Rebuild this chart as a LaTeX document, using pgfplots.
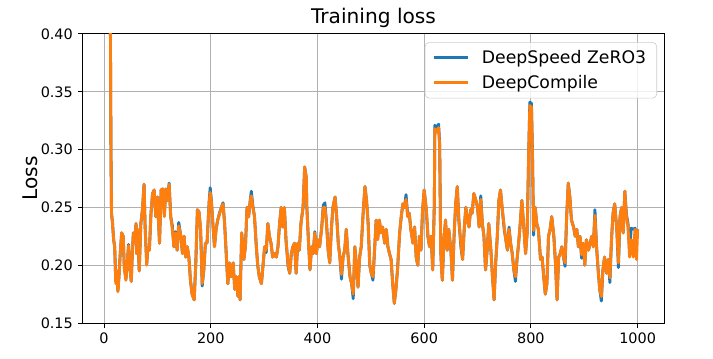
\documentclass[border=0pt]{standalone}
\usepackage{fontspec}
\setmainfont{DejaVu Sans}
\usepackage{pgfplots}
\usepackage{pgfplotstable}
\pgfplotsset{compat=1.18}
\usetikzlibrary{calc}

\definecolor{mplblue}{HTML}{1F77B4}
\definecolor{mplorange}{HTML}{FF7F0E}
\definecolor{gridc}{HTML}{B0B0B0}

% step, DeepSpeed ZeRO3, DeepCompile (smoothed loss)
\pgfplotstableread{
x zero dc
10 0.62 0.62
12 0.40 0.40
13 0.30 0.30
14 0.245 0.245
16 0.236 0.236
18 0.222 0.222
20 0.216 0.216
22 0.186 0.184
24 0.195 0.195
26 0.178 0.177
28 0.190 0.190
30 0.207 0.207
33 0.228 0.228
36 0.225 0.225
38 0.198 0.198
41 0.188 0.187
44 0.205 0.205
46 0.218 0.217
48 0.200 0.200
51 0.186 0.186
53 0.210 0.210
55 0.228 0.228
58 0.222 0.222
60 0.236 0.236
61 0.210 0.210
63 0.231 0.231
66 0.195 0.195
69 0.236 0.236
72 0.248 0.248
75 0.270 0.270
77 0.233 0.233
80 0.201 0.200
82 0.215 0.215
85 0.213 0.213
88 0.245 0.245
91 0.262 0.262
94 0.265 0.265
97 0.242 0.242
100 0.259 0.259
104 0.219 0.219
107 0.265 0.265
110 0.266 0.266
113 0.244 0.242
116 0.266 0.266
119 0.256 0.256
122 0.271 0.270
125 0.242 0.242
128 0.234 0.231
131 0.216 0.216
134 0.229 0.228
137 0.213 0.213
140 0.237 0.234
144 0.225 0.225
147 0.210 0.210
150 0.225 0.225
153 0.207 0.207
156 0.216 0.216
159 0.207 0.207
162 0.187 0.187
165 0.175 0.175
169 0.170 0.170
172 0.202 0.202
175 0.248 0.248
178 0.246 0.246
181 0.231 0.231
184 0.182 0.184
187 0.196 0.196
190 0.219 0.219
193 0.219 0.219
197 0.255 0.254
199 0.267 0.263
201 0.257 0.256
204 0.236 0.236
207 0.216 0.216
210 0.231 0.231
213 0.239 0.239
217 0.246 0.245
220 0.250 0.250
223 0.254 0.253
226 0.236 0.236
229 0.210 0.210
232 0.184 0.184
235 0.202 0.202
238 0.190 0.190
242 0.202 0.202
245 0.179 0.179
248 0.190 0.190
251 0.173 0.173
252 0.190 0.190
255 0.170 0.170
258 0.228 0.228
262 0.205 0.205
265 0.216 0.216
268 0.250 0.250
271 0.242 0.242
274 0.256 0.256
276 0.264 0.260
279 0.251 0.250
282 0.242 0.242
285 0.219 0.219
288 0.200 0.200
291 0.190 0.190
295 0.184 0.184
298 0.200 0.200
301 0.216 0.216
304 0.211 0.213
307 0.236 0.236
310 0.225 0.225
313 0.219 0.219
316 0.207 0.207
320 0.210 0.210
323 0.207 0.207
326 0.216 0.216
329 0.236 0.236
332 0.250 0.250
335 0.233 0.233
338 0.250 0.250
341 0.222 0.222
345 0.199 0.200
348 0.193 0.193
351 0.210 0.210
354 0.216 0.216
357 0.219 0.219
360 0.193 0.193
363 0.219 0.219
366 0.213 0.213
369 0.236 0.236
373 0.250 0.250
376 0.285 0.285
379 0.276 0.276
380 0.251 0.251
383 0.222 0.222
386 0.196 0.196
389 0.216 0.216
392 0.210 0.210
395 0.229 0.228
398 0.210 0.210
401 0.222 0.222
404 0.216 0.216
408 0.233 0.233
411 0.252 0.250
414 0.254 0.250
417 0.236 0.236
420 0.213 0.213
423 0.202 0.202
426 0.231 0.231
429 0.250 0.250
433 0.259 0.259
436 0.242 0.242
439 0.219 0.219
442 0.207 0.207
445 0.188 0.192
448 0.207 0.207
451 0.213 0.213
454 0.231 0.231
457 0.210 0.210
461 0.190 0.190
464 0.184 0.184
467 0.171 0.175
470 0.216 0.216
473 0.200 0.200
476 0.181 0.181
479 0.207 0.207
482 0.216 0.216
486 0.248 0.248
489 0.268 0.268
492 0.256 0.256
495 0.236 0.236
498 0.200 0.200
501 0.193 0.193
504 0.187 0.190
507 0.213 0.213
510 0.239 0.239
513 0.224 0.222
516 0.239 0.239
519 0.228 0.228
522 0.233 0.233
526 0.219 0.219
529 0.231 0.231
532 0.216 0.216
535 0.210 0.210
538 0.205 0.205
541 0.184 0.184
544 0.167 0.167
547 0.179 0.179
550 0.196 0.196
554 0.228 0.228
557 0.242 0.242
560 0.253 0.253
563 0.250 0.250
566 0.261 0.257
569 0.244 0.242
572 0.245 0.245
575 0.231 0.231
579 0.219 0.219
582 0.233 0.233
585 0.207 0.207
588 0.200 0.200
591 0.225 0.225
594 0.213 0.213
597 0.248 0.248
600 0.265 0.265
604 0.248 0.248
607 0.225 0.225
610 0.216 0.216
613 0.225 0.225
616 0.196 0.196
619 0.253 0.253
620 0.321 0.318
623 0.319 0.315
627 0.322 0.319
629 0.305 0.303
631 0.213 0.213
632 0.202 0.202
634 0.187 0.187
637 0.222 0.222
640 0.239 0.239
643 0.213 0.213
646 0.231 0.231
650 0.213 0.213
653 0.187 0.187
656 0.225 0.225
659 0.253 0.253
662 0.268 0.268
665 0.239 0.239
669 0.215 0.218
672 0.205 0.205
675 0.231 0.231
678 0.250 0.250
681 0.239 0.239
684 0.233 0.233
687 0.248 0.248
690 0.245 0.245
693 0.262 0.262
697 0.256 0.256
700 0.250 0.250
703 0.233 0.233
706 0.260 0.257
709 0.236 0.236
712 0.225 0.225
715 0.196 0.196
718 0.213 0.213
721 0.236 0.236
725 0.213 0.213
728 0.190 0.190
731 0.170 0.170
734 0.202 0.202
737 0.225 0.225
740 0.256 0.256
743 0.265 0.265
746 0.250 0.250
750 0.231 0.233
753 0.222 0.222
756 0.213 0.213
759 0.233 0.231
762 0.219 0.219
765 0.210 0.210
768 0.196 0.196
771 0.186 0.190
774 0.205 0.205
777 0.219 0.219
780 0.236 0.236
783 0.256 0.256
787 0.231 0.231
790 0.210 0.210
793 0.228 0.228
796 0.300 0.300
798 0.341 0.338
801 0.340 0.337
803 0.296 0.294
805 0.226 0.230
808 0.250 0.250
811 0.236 0.236
814 0.231 0.231
818 0.205 0.205
821 0.207 0.207
824 0.190 0.190
827 0.175 0.175
830 0.184 0.184
833 0.225 0.225
836 0.231 0.231
839 0.242 0.242
843 0.225 0.225
846 0.202 0.202
849 0.170 0.170
852 0.207 0.207
855 0.210 0.210
858 0.216 0.216
861 0.207 0.207
864 0.199 0.202
867 0.242 0.242
870 0.271 0.271
873 0.259 0.259
876 0.239 0.239
880 0.233 0.233
883 0.225 0.225
886 0.231 0.231
889 0.216 0.216
892 0.225 0.225
895 0.206 0.209
898 0.219 0.219
901 0.200 0.200
904 0.222 0.222
908 0.213 0.213
911 0.219 0.219
914 0.225 0.225
917 0.216 0.216
920 0.248 0.243
923 0.216 0.216
926 0.196 0.196
929 0.179 0.179
932 0.169 0.173
935 0.196 0.196
938 0.207 0.207
942 0.193 0.193
945 0.205 0.205
948 0.185 0.189
951 0.222 0.222
954 0.245 0.245
957 0.253 0.253
961 0.231 0.231
964 0.198 0.202
967 0.242 0.242
970 0.250 0.250
973 0.228 0.228
976 0.264 0.264
979 0.244 0.242
982 0.236 0.233
985 0.212 0.207
988 0.232 0.222
992 0.231 0.207
995 0.232 0.231
998 0.228 0.205
1000 0.231 0.231
}\losstable

\begin{document}
\begin{tikzpicture}
\begin{axis}[
    scale only axis,
    width=403.5pt, height=200.7pt,
    xmin=-39.5, xmax=1049.5,
    ymin=0.15, ymax=0.40,
    xtick={0,200,400,600,800,1000},
    ytick={0.15,0.20,0.25,0.30,0.35,0.40},
    xticklabel style={/pgf/number format/1000 sep={}},
    yticklabel style={/pgf/number format/.cd,fixed,fixed zerofill,precision=2},
    /pgf/number format/assume math mode=true,
    tick label style={font=\fontsize{10}{12}\selectfont},
    tick align=outside, tick pos=left,
    major tick length=3.5pt,
    every tick/.style={black,line width=0.7pt},
    axis line style={black,line width=0.7pt},
    grid=major,
    major grid style={gridc,line width=0.7pt},
    title={Training loss},
    title style={font=\fontsize{14}{16}\selectfont,at={(0.5,1)},anchor=base,yshift=1.6pt},
    ylabel={Loss},
    ylabel style={font=\fontsize{14}{16}\selectfont,at={(axis description cs:-0.0912,0.5)},anchor=center},
    legend style={at={(0.988,0.972)},anchor=north east,draw=black!20,
        rounded corners=3pt,fill=white,fill opacity=0.8,text opacity=1,
        font=\fontsize{12}{14}\selectfont,inner xsep=5.4pt,inner ysep=3.5pt,row sep=2.5pt},
    legend cell align=left,
    legend image code/.code={\draw[#1] (0pt,0pt) -- (23.5pt,0pt); \path (30pt,0pt);},
]
\addplot[mplblue,line width=2pt,line join=round] table[x=x,y=zero] {\losstable};
\addlegendentry{DeepSpeed ZeRO3}
\addplot[mplorange,line width=2pt,line join=round] table[x=x,y=dc] {\losstable};
\addlegendentry{DeepCompile}
\end{axis}
\pgfresetboundingbox
\path ($(current axis.south west)+(-57.6pt,-24.3pt)$) rectangle ($(current axis.north east)+(34pt,23.6pt)$);
\end{tikzpicture}
\end{document}
